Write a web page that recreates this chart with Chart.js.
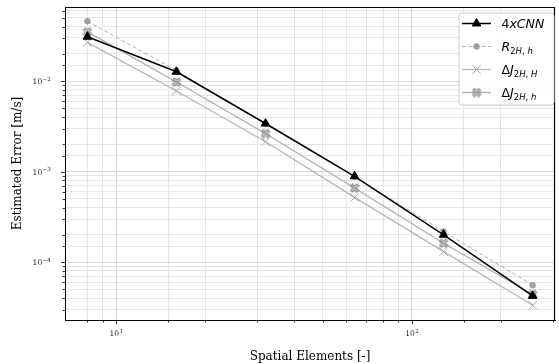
<!DOCTYPE html>
<html><head><meta charset="utf-8">
<script src="https://cdn.jsdelivr.net/npm/chart.js@4.4.0/dist/chart.umd.min.js"></script>
<style>html,body{margin:0;padding:0;overflow:hidden;background:#fff;width:559px;height:364px}canvas{display:block}</style>
</head><body>
<canvas id="c" width="562" height="364"></canvas>
<script>
// ---- data ----
const elements = [8, 16, 32, 64, 128, 256];
const cnn4x  = [0.031, 0.0127, 0.00341, 0.00089, 0.000201, 0.0000425];
const r2Hh   = [0.046, 0.0131, 0.00336, 0.00088, 0.000218, 0.0000557];
const dJ2HH  = [0.0268, 0.0078, 0.00214, 0.00052, 0.000131, 0.0000335];
const dJ2Hh  = [0.035, 0.0098, 0.00264, 0.00066, 0.000162, 0.000044];
const xRange = [6.72, 304.6];
const yRange = [2.3e-5, 0.066];
const xTitle = 'Spatial Elements [-]';
const yTitle = 'Estimated Error [m/s]';
const legendLabels = [
  [{t:'4'},{t:'xCNN',it:1}],
  [{t:'R',it:1},{t:'2',sub:1},{t:'H',sub:1,it:1},{t:', ',sub:1},{t:'h',sub:1,it:1}],
  [{t:'Δ'},{t:'J',it:1},{t:'2',sub:1},{t:'H',sub:1,it:1},{t:', ',sub:1},{t:'H',sub:1,it:1}],
  [{t:'Δ'},{t:'J',it:1},{t:'2',sub:1},{t:'H',sub:1,it:1},{t:', ',sub:1},{t:'h',sub:1,it:1}]
];

// bold "X" marker
function makeXMarker(size){
  const c=document.createElement('canvas'); c.width=c.height=size;
  const g=c.getContext('2d');
  const s=size/2-0.8, t=s/3;
  g.translate(size/2,size/2); g.rotate(Math.PI/4);
  const k=Math.SQRT2;
  const pts=[[-s,-t],[-t,-t],[-t,-s],[t,-s],[t,-t],[s,-t],[s,t],[t,t],[t,s],[-t,s],[-t,t],[-s,t]];
  g.beginPath(); pts.forEach((p,i)=>i?g.lineTo(p[0]*k*0.75,p[1]*k*0.75):g.moveTo(p[0]*k*0.75,p[1]*k*0.75)); g.closePath();
  g.fillStyle='rgba(140,140,140,0.55)'; g.fill();
  g.strokeStyle='rgba(120,120,120,0.7)'; g.lineWidth=1; g.stroke();
  return c;
}
const xMark = makeXMarker(10);

const isDecade = v => { const l=Math.log10(v); return Math.abs(l-Math.round(l))<1e-6; };
const expText = v => String(Math.round(Math.log10(v))).replace('-', '\u2212');
const gridColor = ctx => (ctx.tick && isDecade(ctx.tick.value)) ? '#d9d9d9' : '#e6e6e6';

const serif = 'DejaVu Serif';
const baseFont = '7.6px "DejaVu Serif"', expFont = '5.6px "DejaVu Serif"';

function drawPow(ctx, x, y, v, align){
  ctx.font = baseFont; const wb = ctx.measureText('10').width;
  const e = expText(v);
  ctx.font = expFont; const we = ctx.measureText(e).width;
  const w = wb + we;
  const x0 = align==='right' ? x - w : x - w/2;
  ctx.textAlign='left'; ctx.textBaseline='middle'; ctx.fillStyle='#222';
  ctx.font = baseFont; ctx.fillText('10', x0, y);
  ctx.font = expFont; ctx.fillText(e, x0+wb+0.3, y-3);
}

const framePlugin = {
  id:'frame',
  afterDraw(chart){
    const {ctx, chartArea:a, scales} = chart;
    ctx.save();
    ctx.strokeStyle='#000'; ctx.lineWidth=1;
    ctx.beginPath();
    ctx.moveTo(a.left, a.top+0.5); ctx.lineTo(a.right, a.top+0.5);
    ctx.moveTo(a.right-0.5, a.top); ctx.lineTo(a.right-0.5, a.bottom);
    ctx.stroke();
    ctx.lineWidth=0.8;
    ctx.beginPath();
    const xs=scales.x, ys=scales.y;
    xs.ticks.forEach(t=>{
      if (t.value<=xs.min*1.0001 || t.value>=xs.max*0.9999) return;
      const p=Math.round(xs.getPixelForValue(t.value))+0.5;
      const len=isDecade(t.value)?4:2.5;
      ctx.moveTo(p,a.bottom); ctx.lineTo(p,a.bottom+len);
    });
    ys.ticks.forEach(t=>{
      if (t.value<=ys.min*1.0001 || t.value>=ys.max*0.9999) return;
      const p=Math.round(ys.getPixelForValue(t.value))+0.5;
      const len=isDecade(t.value)?4:2.5;
      ctx.moveTo(a.left,p); ctx.lineTo(a.left-len,p);
    });
    ctx.stroke();
    // decade tick labels
    xs.ticks.forEach(t=>{ if (isDecade(t.value)) drawPow(ctx, xs.getPixelForValue(t.value), a.bottom+14.5, t.value, 'center'); });
    ys.ticks.forEach(t=>{ if (isDecade(t.value)) drawPow(ctx, a.left-14.5, ys.getPixelForValue(t.value)+1.2, t.value, 'right'); });
    ctx.restore();
  }
};

function drawMarker(ctx, ds, x, y){
  const st=ds.pointStyle, r=ds.pointRadius;
  ctx.save();
  if (st instanceof HTMLCanvasElement){ ctx.drawImage(st, x-st.width/2, y-st.height/2); ctx.restore(); return; }
  ctx.fillStyle=ds.pointBackgroundColor; ctx.strokeStyle=ds.pointBorderColor; ctx.lineWidth=ds.pointBorderWidth;
  ctx.beginPath();
  if (st==='triangle'){
    let rad=0;
    ctx.moveTo(x+Math.sin(rad)*r, y-Math.cos(rad)*r); rad+=2*Math.PI/3;
    ctx.lineTo(x+Math.sin(rad)*r, y-Math.cos(rad)*r); rad+=2*Math.PI/3;
    ctx.lineTo(x+Math.sin(rad)*r, y-Math.cos(rad)*r); ctx.closePath(); ctx.fill(); ctx.stroke();
  } else if (st==='circle'){
    ctx.arc(x,y,r,0,Math.PI*2); ctx.fill(); ctx.stroke();
  } else if (st==='crossRot'){
    const o=Math.cos(Math.PI/4)*r;
    ctx.moveTo(x-o,y-o); ctx.lineTo(x+o,y+o); ctx.moveTo(x-o,y+o); ctx.lineTo(x+o,y-o); ctx.stroke();
  }
  ctx.restore();
}

const legendPlugin = {
  id:'mplLegend',
  afterDraw(chart){
    const ctx=chart.ctx;
    const bx=459, by=13, bw=95, bh=92, rr=3;
    ctx.save();
    ctx.beginPath();
    ctx.moveTo(bx+rr,by); ctx.arcTo(bx+bw,by,bx+bw,by+bh,rr); ctx.arcTo(bx+bw,by+bh,bx,by+bh,rr);
    ctx.arcTo(bx,by+bh,bx,by,rr); ctx.arcTo(bx,by,bx+bw,by,rr); ctx.closePath();
    ctx.fillStyle='rgba(255,255,255,0.85)'; ctx.fill();
    ctx.strokeStyle='#cccccc'; ctx.lineWidth=1; ctx.stroke();
    chart.data.datasets.forEach((ds,i)=>{
      const y=23.5+i*23;
      ctx.save();
      ctx.strokeStyle=ds.borderColor; ctx.lineWidth=ds.borderWidth;
      ctx.setLineDash(ds.borderDash||[]);
      ctx.beginPath(); ctx.moveTo(462,y); ctx.lineTo(491,y); ctx.stroke();
      ctx.restore();
      drawMarker(ctx, ds, 476.5, y);
      let x=501.5;
      ctx.fillStyle='#000'; ctx.textBaseline='alphabetic'; ctx.textAlign='left';
      legendLabels[i].forEach(p=>{
        const size=p.sub?8.5:12.5;
        ctx.font=(p.it?'italic ':'')+size+'px "DejaVu Sans"';
        ctx.fillText(p.t, x, y+(p.sub?7:4.5));
        x+=ctx.measureText(p.t).width;
      });
    });
    ctx.restore();
  }
};

const noPad = s => { s.paddingTop=0; s.paddingBottom=0; s.paddingLeft=0; s.paddingRight=0; };
const mk = (label, data, o) => Object.assign({label, data: elements.map((e,i)=>({x:e,y:data[i]})), fill:false, tension:0, showLine:true}, o);

new Chart(document.getElementById('c'), {
  type:'scatter',
  data:{ datasets:[
    mk('4xCNN', cnn4x, {borderColor:'#000', borderWidth:1.5, pointStyle:'triangle', pointRadius:5, pointBackgroundColor:'#000', pointBorderColor:'#000', pointBorderWidth:1}),
    mk('R2H,h', r2Hh, {borderColor:'rgba(150,150,150,0.75)', borderWidth:1, borderDash:[4,2.5], pointStyle:'circle', pointRadius:3, pointBackgroundColor:'rgba(140,140,140,0.8)', pointBorderColor:'rgba(140,140,140,0.8)', pointBorderWidth:0.5}),
    mk('dJ2H,H', dJ2HH, {borderColor:'rgba(170,170,170,0.85)', borderWidth:1.3, pointStyle:'crossRot', pointRadius:6, pointBackgroundColor:'rgba(160,160,160,0.9)', pointBorderColor:'rgba(160,160,160,0.9)', pointBorderWidth:1}),
    mk('dJ2H,h', dJ2Hh, {borderColor:'rgba(160,160,160,0.85)', borderWidth:1.3, pointStyle:xMark, pointRadius:5, pointBackgroundColor:'#999', pointBorderColor:'#999', pointBorderWidth:1})
  ]},
  options:{
    responsive:false, animation:false, devicePixelRatio:1,
    layout:{padding:{top:7,right:1,left:0,bottom:0}},
    plugins:{legend:{display:false}, tooltip:{enabled:false}},
    scales:{
      x:{ type:'logarithmic', min:xRange[0], max:xRange[1],
        afterFit:s=>{s.height=44; noPad(s);},
        border:{color:'#000', width:1},
        grid:{color:gridColor, lineWidth:1, drawTicks:false},
        ticks:{display:false, autoSkip:false},
        title:{display:true, text:xTitle, font:{family:serif,size:12}, color:'#000', padding:{top:4,bottom:0}}
      },
      y:{ type:'logarithmic', min:yRange[0], max:yRange[1],
        afterFit:s=>{s.width=65; noPad(s);},
        border:{color:'#000', width:1},
        grid:{color:gridColor, lineWidth:1, drawTicks:false},
        ticks:{display:false, autoSkip:false},
        title:{display:true, text:yTitle, font:{family:serif,size:12}, color:'#000', padding:{top:11,bottom:0}}
      }
    }
  },
  plugins:[framePlugin, legendPlugin]
});
</script>
</body></html>
